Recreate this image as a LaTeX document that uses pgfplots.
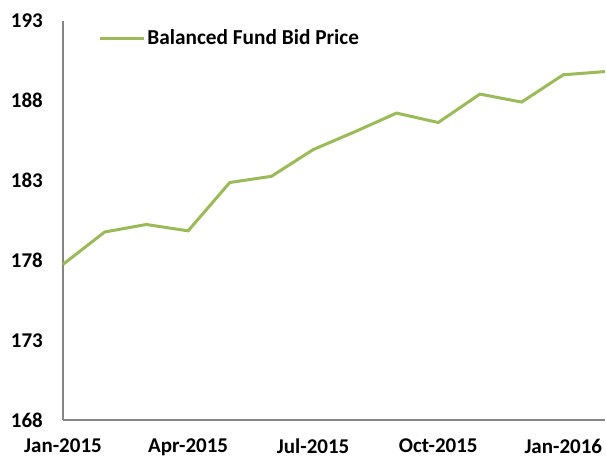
\documentclass[border=0pt]{standalone}
\usepackage{pgfplots}
\pgfplotsset{compat=1.18}
\usepackage{fontspec}
\setmainfont{Carlito}
\definecolor{fundgreen}{RGB}{155,187,89}
\definecolor{axgray}{RGB}{134,134,134}
\begin{document}
\fontsize{21bp}{25bp}\selectfont\bfseries
\begin{tikzpicture}
\begin{axis}[
  scale only axis,
  width=542bp, height=399bp,
  xmin=0, xmax=13,
  ymin=168, ymax=193,
  ytick={168,173,178,183,188,193},
  xtick={0,3,6,9,12},
  xticklabels={Jan-2015,Apr-2015,Jul-2015,Oct-2015,Jan-2016},
  axis x line=bottom, axis y line=left,
  axis line style={draw=axgray, line width=1.3bp, -},
  major tick length=0pt,
  /pgf/number format/assume math mode=true,
  /pgf/number format/1000 sep={},
  ticklabel style={font=\fontsize{21bp}{25bp}\selectfont\bfseries},
  yticklabel style={inner sep=0pt, xshift=-20bp},
  xticklabel style={inner sep=0pt, yshift=-19bp},
  legend style={draw=none, fill=none, at={(rel axis cs:0.065,0.955)}, anchor=west,
    font=\fontsize{21.3bp}{25bp}\selectfont\bfseries, inner sep=0pt},
  legend cell align=left,
  legend image code/.code={\draw[line width=3bp,fundgreen] (0bp,0bp) -- (44bp,0bp);},
  clip=false,
]
\addplot[fundgreen, line width=3bp] coordinates {
 (0,177.75) (1,179.78) (2,180.25) (3,179.85) (4,182.88) (5,183.27) (6,184.94)
 (7,186.06) (8,187.23) (9,186.64) (10,188.42) (11,187.92) (12,189.63) (13,189.83)};
\addlegendentry{Balanced Fund Bid Price}
\coordinate (sw) at (rel axis cs:0,0);
\coordinate (ne) at (rel axis cs:1,1);
\end{axis}
\pgfresetboundingbox
\path[use as bounding box] ([xshift=-63bp,yshift=-38bp]sw) rectangle ([xshift=1bp,yshift=21bp]ne);
\end{tikzpicture}
\end{document}
